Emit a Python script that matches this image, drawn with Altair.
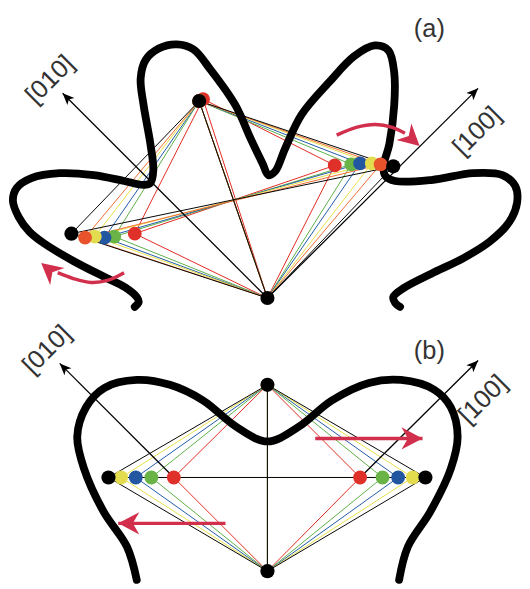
import altair as alt
import pandas as pd

# ---------------- panel (a) ----------------
a_series = ["red", "green", "blue", "yellow", "orange", "black"]
a_top_x = [203, 199, 199, 199, 199, 199]
a_top_y = [94, 96, 96, 96, 96, 96]
a_left_x = [133, 112, 102, 92, 82, 68]
a_left_y = [232, 235, 236, 235, 236, 232]
a_right_x = [338, 355, 364, 376, 385, 398]
a_right_y = [162, 161, 160, 160, 161, 163]
a_bottom = (269, 298)

# ---------------- panel (b) ----------------
b_series = ["red", "green", "blue", "yellow", "black"]
b_left_x = [173, 150, 134, 119, 106]
b_right_x = [364, 387, 403, 418, 431]
b_mid_y = 482
b_top = (269, 387)
b_bottom = (269, 578)

# thick black curves
curve_a_x = [133, 137, 135, 123, 103, 70, 40, 25, 14, 8, 12, 27, 56, 91, 122, 142, 149, 152, 149,
             142, 139, 144, 158, 176, 193, 210, 236, 252, 264, 270, 277, 287, 304, 332, 358, 379,
             393, 399, 399, 394, 388, 390, 400, 437, 480, 510, 523, 525, 517, 497, 470, 437, 410,
             398, 400, 405]
curve_a_y = [307, 302, 297, 287, 277, 260, 242, 230, 215, 198, 185, 175, 170, 172, 178, 182, 180,
             167, 140, 100, 73, 54, 42, 38, 43, 63, 100, 135, 160, 172, 168, 145, 110, 77, 50, 39,
             44, 67, 100, 140, 163, 173, 178, 177, 170, 172, 183, 200, 220, 240, 257, 273, 287,
             297, 303, 307]
curve_b_x = [135, 125, 101, 81, 74, 83, 102, 135, 169, 203, 237, 269, 301, 335, 373, 406, 440,
             457, 464, 457, 436, 413, 404]
curve_b_y = [587, 553, 517, 473, 440, 410, 390, 382, 387, 403, 430, 445, 430, 403, 385, 382, 392,
             410, 440, 473, 517, 553, 587]

# crystal axes: start, tip, arrow angle
axis_x1 = [269, 269, 173, 364]
axis_y1 = [298, 298, 482, 482]
axis_x2 = [59, 485, 56, 485]
axis_y2 = [88, 83, 365, 362]
axis_angle = [225, 315, 225, 315]

# labels
label_text = ["[010]", "[100]", "[010]", "[100]", "(a)", "(b)"]
label_x = [46, 484, 43, 490, 435, 435]
label_y = [74, 127, 351, 402, 22, 353]
label_angle = [315, 315, 315, 315, 0, 0]

# red arrows
red_straight_x1 = [318, 226]
red_straight_x2 = [428, 116]
red_straight_y = [442, 529]
red_curve1_x = [340, 360, 380, 397, 410]
red_curve1_y = [131, 123, 120, 123, 129]
red_curve2_x = [122, 105, 88, 70, 54]
red_curve2_y = [272, 280, 282, 278, 272]
red_head_x = [428, 116, 425, 37]
red_head_y = [442, 529, 142, 262]
red_head_angle = [0, 180, 42, 220]

line_hex = {"black": "#000000", "orange": "#f26a2e", "yellow": "#e6df45", "blue": "#1f58a8",
            "green": "#5cae45", "red": "#e3261f"}
point_hex = {"black": "#000000", "orange": "#e8532b", "yellow": "#e2dc4e", "blue": "#2256a0",
             "green": "#69b347", "red": "#e0302a"}
RED = "#d12f4b"

# ---------- build tables ----------
edges = []
for i, s in enumerate(a_series):
    V = {"T": (a_top_x[i], a_top_y[i]), "L": (a_left_x[i], a_left_y[i]),
         "R": (a_right_x[i], a_right_y[i]), "B": a_bottom}
    for p, q in [("T", "L"), ("T", "R"), ("L", "B"), ("R", "B"), ("L", "R"), ("T", "B")]:
        edges.append({"x": V[p][0], "y": V[p][1], "x2": V[q][0], "y2": V[q][1],
                      "c": line_hex[s], "o": len(edges)})
for i, s in enumerate(b_series):
    V = {"T": b_top, "L": (b_left_x[i], b_mid_y), "R": (b_right_x[i], b_mid_y), "B": b_bottom}
    for p, q in [("T", "L"), ("T", "R"), ("L", "B"), ("R", "B"), ("L", "R"), ("T", "B")]:
        edges.append({"x": V[p][0], "y": V[p][1], "x2": V[q][0], "y2": V[q][1],
                      "c": line_hex[s], "o": len(edges)})
edges = pd.DataFrame(edges)

pts = []
for i, s in enumerate(a_series):
    pts.append({"x": a_top_x[i], "y": a_top_y[i], "s": s, "c": point_hex[s], "panel": "a"})
    pts.append({"x": a_left_x[i], "y": a_left_y[i], "s": s, "c": point_hex[s], "panel": "a"})
    pts.append({"x": a_right_x[i], "y": a_right_y[i], "s": s, "c": point_hex[s], "panel": "a"})
pts.append({"x": a_bottom[0], "y": a_bottom[1], "s": "black", "c": "#000000", "panel": "a"})
for i, s in enumerate(b_series):
    pts.append({"x": b_left_x[i], "y": b_mid_y, "s": s, "c": point_hex[s], "panel": "b"})
    pts.append({"x": b_right_x[i], "y": b_mid_y, "s": s, "c": point_hex[s], "panel": "b"})
pts.append({"x": b_top[0], "y": b_top[1], "s": "black", "c": "#000000", "panel": "b"})
pts.append({"x": b_bottom[0], "y": b_bottom[1], "s": "black", "c": "#000000", "panel": "b"})
pts = pd.DataFrame(pts)
col_pts = pts[pts.s != "black"]
blk_pts = pts[pts.s == "black"]

curves = pd.DataFrame(
    [{"x": x, "y": y, "k": "a", "i": j} for j, (x, y) in enumerate(zip(curve_a_x, curve_a_y))] +
    [{"x": x, "y": y, "k": "b", "i": j} for j, (x, y) in enumerate(zip(curve_b_x, curve_b_y))])

axes_df = pd.DataFrame({"x": axis_x1, "y": axis_y1, "x2": axis_x2, "y2": axis_y2})
axis_heads = pd.DataFrame({"x": axis_x2, "y": axis_y2, "a": axis_angle})
labels = pd.DataFrame({"x": label_x, "y": label_y, "t": label_text, "a": label_angle})
red_lines = pd.DataFrame({"x": red_straight_x1, "x2": red_straight_x2, "y": red_straight_y})
red_curves = pd.DataFrame(
    [{"x": x, "y": y, "k": "u", "i": j} for j, (x, y) in enumerate(zip(red_curve1_x, red_curve1_y))] +
    [{"x": x, "y": y, "k": "l", "i": j} for j, (x, y) in enumerate(zip(red_curve2_x, red_curve2_y))])
red_heads = pd.DataFrame({"x": red_head_x, "y": red_head_y, "a": red_head_angle})

XS = alt.Scale(domain=[8, 522], nice=False, zero=False)
YS = alt.Scale(domain=[8, 581], nice=False, zero=False, reverse=True)
X = alt.X("x:Q", scale=XS, axis=None)
Y = alt.Y("y:Q", scale=YS, axis=None)

edge_layer = alt.Chart(edges).mark_rule(strokeWidth=1).encode(
    x=X, y=Y, x2="x2:Q", y2="y2:Q", color=alt.Color("c:N", scale=None), order="o:Q")
axis_layer = alt.Chart(axes_df).mark_rule(strokeWidth=1.3, color="black").encode(
    x=X, y=Y, x2="x2:Q", y2="y2:Q")
axis_head_layer = alt.Chart(axis_heads).mark_point(
    shape="M0,0 L-2,-0.85 L-1.5,0 L-2,0.85 Z", filled=True, size=144, color="black", opacity=1
).encode(x=X, y=Y, angle=alt.Angle("a:Q", scale=None))
curve_layer = alt.Chart(curves).mark_line(
    color="black", strokeWidth=8, interpolate="catmull-rom", strokeCap="round", strokeJoin="round"
).encode(x=X, y=Y, detail="k:N", order="i:Q")
col_pt_layer = alt.Chart(col_pts).mark_circle(size=200, opacity=1).encode(
    x=X, y=Y, color=alt.Color("c:N", scale=None))
blk_pt_layer = alt.Chart(blk_pts).mark_circle(size=210, opacity=1, color="black").encode(x=X, y=Y)
red_line_layer = alt.Chart(red_lines).mark_rule(strokeWidth=3.5, color=RED).encode(
    x=X, y=Y, x2="x2:Q")
red_curve_layer = alt.Chart(red_curves).mark_line(
    strokeWidth=3.5, color=RED, interpolate="catmull-rom").encode(
    x=X, y=Y, detail="k:N", order="i:Q")
red_head_layer = alt.Chart(red_heads).mark_point(
    shape="M0,0 L-1.8,-0.95 L-1.25,0 L-1.8,0.95 Z", filled=True, size=576, color=RED, opacity=1
).encode(x=X, y=Y, angle=alt.Angle("a:Q", scale=None))
label_layer = alt.Chart(labels).mark_text(
    font="Liberation Sans", fontSize=26, color="#333333", align="center", baseline="middle"
).encode(x=X, y=Y, text="t:N", angle=alt.Angle("a:Q", scale=None))

chart = alt.layer(
    edge_layer, axis_layer, axis_head_layer, curve_layer, col_pt_layer, blk_pt_layer,
    red_line_layer, red_curve_layer, red_head_layer, label_layer
).properties(width=514, height=573, padding=0).configure_view(stroke=None)

chart.save("out.html", embed_options={"renderer": "svg", "actions": False})
